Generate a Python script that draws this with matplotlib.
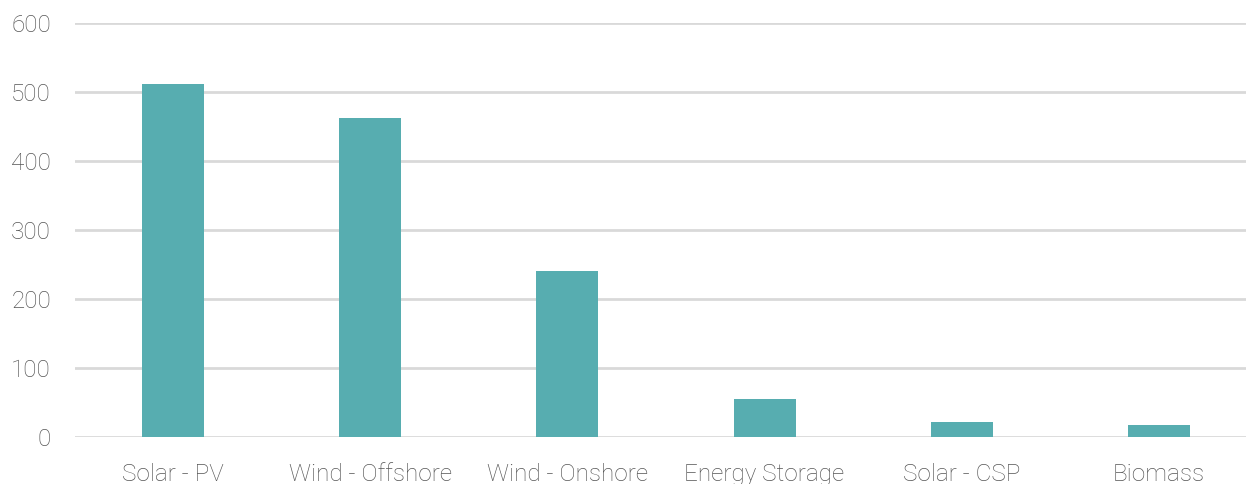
import matplotlib
matplotlib.use("Agg")
import matplotlib.pyplot as plt
import numpy as np

categories = ["Solar - PV", "Wind - Offshore", "Wind - Onshore", "Energy Storage", "Solar - CSP", "Biomass"]
values = [511, 462, 240, 55, 22, 18]
yticks = [0, 100, 200, 300, 400, 500, 600]

W, H = 1246, 484
fig = plt.figure(figsize=(W / 100, H / 100), dpi=100)
left, right = 74.5, 1257.5
bottom, top = 437, 23
ax = fig.add_axes([left / W, (H - bottom) / H, (right - left) / W, (bottom - top) / H])

x = np.arange(len(categories))
ax.bar(x, values, width=0.315, color="#57adb0", zorder=3)
ax.set_xlim(-0.5, len(categories) - 0.5)
ax.set_ylim(0, 600)
ax.set_yticks(yticks)
ax.set_xticks(x)
ax.set_xticklabels(categories)
ax.grid(axis="y", color="#d9d9d9", linewidth=2, zorder=0)
for s in ax.spines.values():
    s.set_visible(False)
ax.tick_params(axis="both", length=0, labelsize=17.5, labelcolor="#555555")
ax.tick_params(axis="y", pad=17)
ax.tick_params(axis="x", pad=18.5)
for lab in ax.get_xticklabels() + ax.get_yticklabels():
    lab.set_fontfamily("Roboto")
    lab.set_fontweight("light")
fig.savefig("out.png", dpi=100)
